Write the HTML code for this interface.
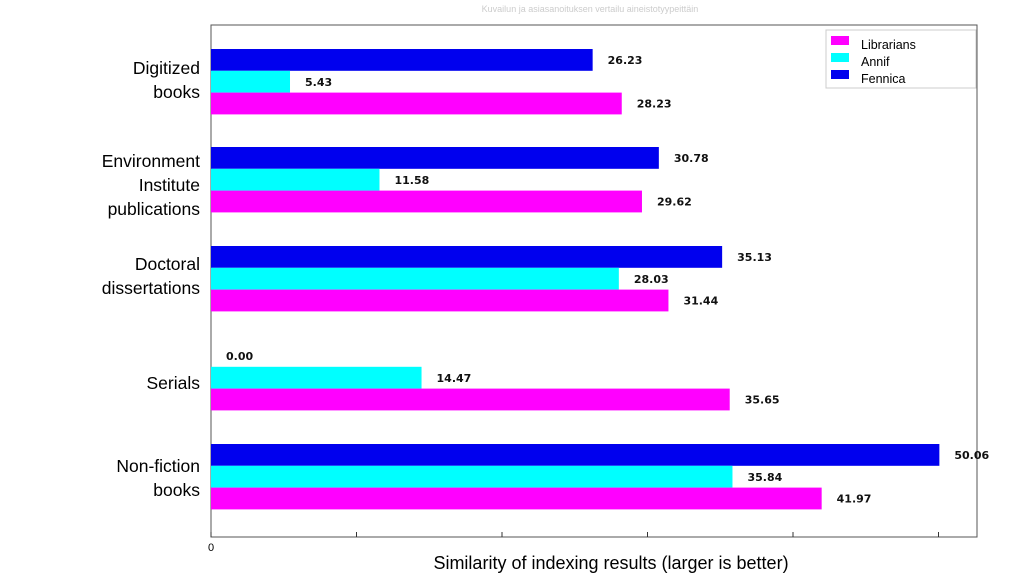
<!DOCTYPE html>
<html><head><meta charset="utf-8"><style>
body{margin:0;background:#fff;width:1024px;height:576px;overflow:hidden;font-family:"Liberation Sans",sans-serif}
</style></head><body>
<svg id="chart" width="1024" height="576" xmlns="http://www.w3.org/2000/svg">
<text x="590" y="12" text-anchor="middle" font-size="9" fill="#ccc">Kuvailun ja asiasanoituksen vertailu aineistotyypeittäin</text>
<rect x="211" y="25" width="766" height="512" fill="none" stroke="#555" stroke-width="1"/>
<g id="bars"></g>
<g id="ticks"></g>
<text x="611" y="569" text-anchor="middle" font-size="18" fill="#000">Similarity of indexing results (larger is better)</text>
<g>
<rect x="826" y="30" width="150" height="58" fill="#fff" stroke="#ccc"/>
<rect x="831" y="36" width="18" height="9" fill="#ff00ff"/>
<text x="861" y="49" font-size="12.5">Librarians</text>
<rect x="831" y="53" width="18" height="9" fill="#00ffff"/>
<text x="861" y="66" font-size="12.5">Annif</text>
<rect x="831" y="70" width="18" height="9" fill="#0000ee"/>
<text x="861" y="83" font-size="12.5">Fennica</text>
</g>
</svg>
<script>
const categories=[["Digitized","books"],["Environment","Institute","publications"],["Doctoral","dissertations"],["Serials"],["Non-fiction","books"]];
const fennica=[26.23,30.78,35.13,0.00,50.06];
const annif=[5.43,11.58,28.03,14.47,35.84];
const librarians=[28.23,29.62,31.44,35.65,41.97];
const tickValues=[0,10,20,30,40,50];
const tickLabels=["0","","","","",""];
const groupTops=[49,147,246,345,444];
const labelFirstBaseline=[74,167,270,389,472];
const NS="http://www.w3.org/2000/svg";
const x0=211,pxPer=14.55,bh=21.8;
const X=v=>x0+v*pxPer;
const bars=document.getElementById('bars'),ticks=document.getElementById('ticks');
function mk(t,a,p){const e=document.createElementNS(NS,t);for(const k in a)e.setAttribute(k,a[k]);p.appendChild(e);return e;}
const series=[[fennica,"#0000ee","fennica"],[annif,"#00ffff","annif"],[librarians,"#ff00ff","librarians"]];
categories.forEach((c,i)=>{
  series.forEach((s,j)=>{
    const v=s[0][i],y=groupTops[i]+j*bh;
    const r=mk('rect',{x:x0,y:y,width:Math.max(0,X(v)-x0),height:bh,fill:s[1]},bars);
    
    
    const t=mk('text',{x:X(v)+15,y:y+15,'font-size':11,'font-weight':'bold',fill:'#111','font-family':'DejaVu Sans, sans-serif'},bars);
    t.textContent=v.toFixed(2);
    
    
  });
  c.forEach((ln,k)=>{
    const t=mk('text',{x:200,y:labelFirstBaseline[i]+k*24,'text-anchor':'end','font-size':17.5},bars);
    t.textContent=ln;
    
    
  });
});
tickValues.forEach((v,i)=>{
  const l=mk('line',{x1:X(v),x2:X(v),y1:537,y2:532,stroke:'#333'},ticks);
  
  
  if(tickLabels[i]){const t=mk('text',{x:X(v),y:551,'text-anchor':'middle','font-size':11},ticks);t.textContent=tickLabels[i];
  
  }
});
</script>
</body></html>
